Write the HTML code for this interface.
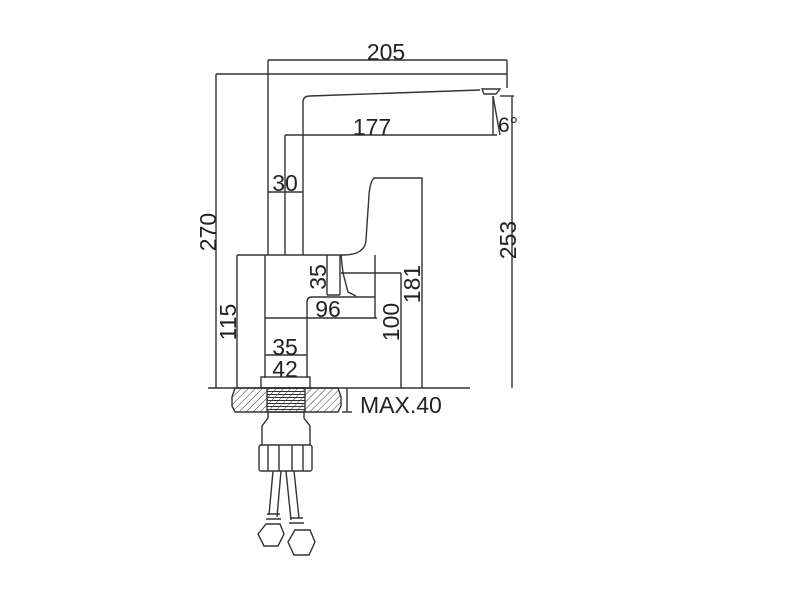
<!DOCTYPE html>
<html><head><style>body{margin:0;background:#fff}svg{display:block}</style></head><body>
<svg width="800" height="600" viewBox="0 0 800 600" xmlns="http://www.w3.org/2000/svg">
<defs>
<pattern id="h" width="5" height="5" patternUnits="userSpaceOnUse" patternTransform="rotate(45)"><line x1="0" y1="0" x2="0" y2="5" stroke="#333" stroke-width="1"/></pattern>
<pattern id="t" width="4" height="3" patternUnits="userSpaceOnUse"><line x1="0" y1="1.5" x2="4" y2="1.5" stroke="#333" stroke-width="1"/></pattern>
</defs>
<g fill="none" stroke="#333" stroke-width="1.4">
<line x1="268" y1="60" x2="507" y2="60"/>
<line x1="268" y1="60" x2="268" y2="255"/>
<line x1="507" y1="60" x2="507" y2="88"/>
<line x1="216" y1="74" x2="507" y2="74"/>
<line x1="216" y1="74" x2="216" y2="388"/>
<line x1="285" y1="135" x2="497" y2="135"/>
<line x1="285" y1="135" x2="285" y2="255"/>
<line x1="268" y1="192" x2="303" y2="192"/>
<line x1="500" y1="96" x2="514" y2="96"/>
<line x1="512" y1="96" x2="512" y2="388"/>
<line x1="493" y1="96" x2="493" y2="135"/>
<line x1="493" y1="96" x2="500" y2="135"/>
<path d="M303 255 V102 Q303 96 310 96 L480 90"/>
<path d="M482 89 h18 l-4 5 h-12 z"/>
<path d="M422 388 V178 H374 Q370 182 369 195 L366 240 Q365 255 343 255"/>
<line x1="375" y1="255" x2="375" y2="318"/>
<line x1="237" y1="255" x2="343" y2="255"/>
<line x1="237" y1="255" x2="237" y2="388"/>
<line x1="265" y1="255" x2="265" y2="378"/>
<path d="M327 255 V295 M340 255 V295 M327 295 H340"/>
<path d="M341 255 L343 273 L348 292 L356 296"/>
<line x1="341" y1="273" x2="401" y2="273"/>
<line x1="401" y1="273" x2="401" y2="388"/>
<path d="M307 378 V302 Q307 297 312 297 H375"/>
<line x1="265" y1="318" x2="377" y2="318"/>
<line x1="265" y1="355" x2="307" y2="355"/>
<rect x="261" y="377" width="49" height="11"/>
<line x1="208" y1="388" x2="470" y2="388"/>
<path d="M235 388 H338 L341 397 V406 L338 412 H235 L232 406 V397 Z" fill="url(#h)"/>
<rect x="267" y="388" width="38" height="24" fill="url(#t)"/>
<line x1="342" y1="412" x2="352" y2="412"/>
<line x1="347" y1="388" x2="347" y2="412"/>
<path d="M268 412 V418 L262 426 V445 M304 412 V418 L310 426 V445"/>
<rect x="259" y="445" width="53" height="26" rx="2"/>
<path d="M268 445 V471 M279 445 V471 M292 445 V471 M303 445 V471"/>
<path d="M273 471 L269 515 M281 471 L277 517 M286 471 L291 520 M294 471 L299 518"/>
<path d="M267 514 h13 M266 519 h15 M290 518 h13 M289 523 h15"/>
<path d="M258 534 L266 524 H280 L284 534 L278 546 H264 Z"/>
<path d="M288 542 L295 530 H310 L315 542 L309 555 H294 Z"/>
</g>
<g font-family="Liberation Sans, sans-serif" font-size="23" fill="#222">
<text x="386" y="60" text-anchor="middle">205</text>
<text x="372" y="135" text-anchor="middle">177</text>
<text x="285" y="191" text-anchor="middle">30</text>
<text x="498" y="132" font-size="21">6°</text>
<text x="360" y="413">MAX.40</text>
<text x="328" y="317" text-anchor="middle">96</text>
<text x="285" y="355" text-anchor="middle">35</text>
<text x="285" y="377" text-anchor="middle">42</text>
<text transform="translate(216,232) rotate(-90)" text-anchor="middle">270</text>
<text transform="translate(516,240) rotate(-90)" text-anchor="middle">253</text>
<text transform="translate(326,277) rotate(-90)" text-anchor="middle">35</text>
<text transform="translate(420,284) rotate(-90)" text-anchor="middle">181</text>
<text transform="translate(236,322) rotate(-90)" text-anchor="middle">115</text>
<text transform="translate(399,322) rotate(-90)" text-anchor="middle">100</text>
</g>
</svg>
</body></html>
